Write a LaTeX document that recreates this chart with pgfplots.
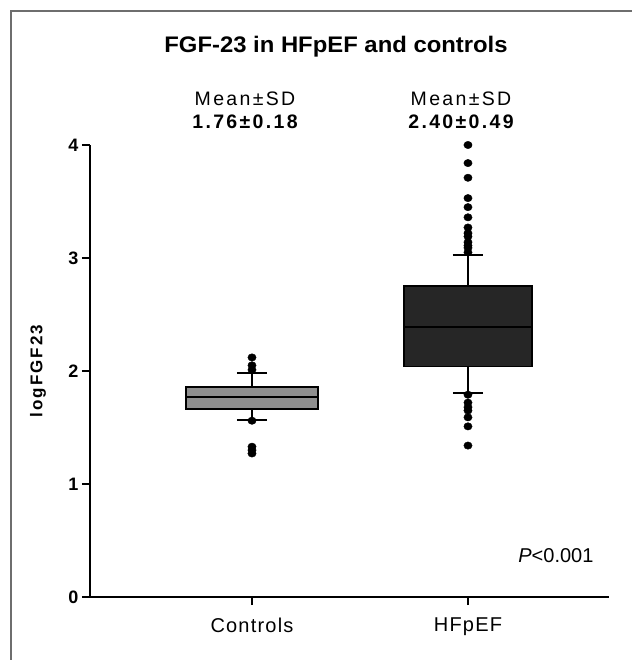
\documentclass[border=0pt]{standalone}
\usepackage{fontspec}
\setmainfont{Liberation Sans}
\newfontfamily\titlefont{Liberation Sans}[FakeStretch=1.06]
\newfontfamily\lsfont{Liberation Sans}[LetterSpace=12]
\newfontfamily\lsfontb{Liberation Sans}[LetterSpace=6]
\usepackage{pgfplots}
\pgfplotsset{compat=1.18}
\usepgfplotslibrary{statistics}
\definecolor{boxgray}{RGB}{143,143,143}
\definecolor{boxdark}{RGB}{38,38,38}
\definecolor{framegray}{RGB}{110,110,110}
\begin{document}
\begin{tikzpicture}[x=1pt,y=1pt]
\useasboundingbox (0,0) rectangle (632,660);
\draw[framegray, line width=2pt] (11,0) -- (11,649) -- (632,649);
\begin{axis}[
  at={(90pt,63pt)}, anchor=south west, scale only axis,
  width=519pt, height=452pt,
  xmin=0.25, xmax=2.653, ymin=0, ymax=4,
  axis x line*=bottom, axis y line*=left,
  axis line style={line width=1.8pt},
  tick align=outside, major tick length=8pt,
  major tick style={line width=1.8pt, black},
  xtick={1,2}, xticklabels={Controls,HFpEF},
  ytick={0,1,2,3,4},
  /pgf/number format/assume math mode=true,
  yticklabel style={font=\bfseries\fontsize{18}{18}\selectfont},
  xticklabel style={font=\lsfontb\fontsize{20}{20}\selectfont, yshift=-9pt},
  ylabel={\lsfont\bfseries\fontsize{17}{17}\selectfont logFGF23},
  every axis y label/.style={at={(axis description cs:-0.1,0.5)}, rotate=90, anchor=center},
  boxplot/draw direction=y,
  clip=false,
]
\addplot[boxplot prepared={draw position=1, lower whisker=1.566, lower quartile=1.664,
  median=1.77, upper quartile=1.858, upper whisker=1.98, box extend=0.61, whisker extend=0.14},
  draw=black, line width=1.8pt, fill=boxgray] coordinates {};
\addplot[boxplot prepared={draw position=2, lower whisker=1.805, lower quartile=2.04,
  median=2.39, upper quartile=2.75, upper whisker=3.03, box extend=0.59, whisker extend=0.14},
  draw=black, line width=1.8pt, fill=boxdark] coordinates {};
\addplot[only marks, mark=*, mark size=3.7pt, black, mark options={xscale=1.12}] coordinates {
  (1,2.12) (1,2.05) (1,2.01) (1,1.56) (1,1.33) (1,1.30) (1,1.27)};
\addplot[only marks, mark=*, mark size=3.7pt, black, mark options={xscale=1.12}] coordinates {
  (2,4.00) (2,3.84) (2,3.71) (2,3.53) (2,3.45) (2,3.36) (2,3.27) (2,3.22) (2,3.19)
  (2,3.14) (2,3.11) (2,3.09) (2,3.05)
  (2,1.79) (2,1.72) (2,1.68) (2,1.65) (2,1.59) (2,1.51) (2,1.34)};
\end{axis}
\node[anchor=base] at (336,607) {\titlefont\bfseries\fontsize{22.5}{22.5}\selectfont FGF-23 in HFpEF and controls};
\node[anchor=base] at (245,554) {\lsfont\fontsize{19.5}{19.5}\selectfont Mean±SD};
\node[anchor=base] at (245,531) {\lsfont\bfseries\fontsize{19.5}{19.5}\selectfont 1.76±0.18};
\node[anchor=base] at (461,554) {\lsfont\fontsize{19.5}{19.5}\selectfont Mean±SD};
\node[anchor=base] at (461,531) {\lsfont\bfseries\fontsize{19.5}{19.5}\selectfont 2.40±0.49};
\node[anchor=base east] at (597,97) {\fontsize{20}{20}\selectfont\itshape P\upshape<0.001};
\end{tikzpicture}
\end{document}
